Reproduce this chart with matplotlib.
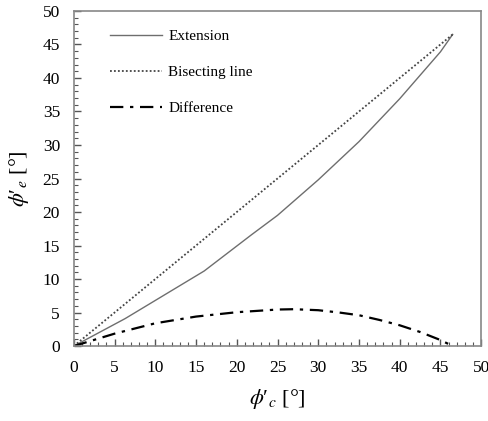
import matplotlib
matplotlib.use("Agg")
import matplotlib.pyplot as plt
from matplotlib.ticker import MultipleLocator

# Datos
ext_x = [0, 6.3, 16.0, 21.8, 25, 30, 35, 40, 45, 46.5]
ext_y = [0, 4.1, 11.2, 16.6, 19.5, 24.8, 30.5, 36.9, 43.9, 46.5]

bis_x = [0, 46.5]
bis_y = [0, 46.5]

dif_x = [0, 5, 10, 15, 20, 25, 27, 30, 32.6, 35, 37.5, 40, 42.5, 45, 46.5]
dif_y = [0, 1.85, 3.4, 4.4, 5.05, 5.45, 5.5, 5.35, 5.0, 4.6, 3.9, 3.1, 2.1, 0.9, 0]

plt.rcParams['font.family'] = ['Liberation Serif', 'DejaVu Serif']
plt.rcParams['mathtext.fontset'] = 'stix'

fig = plt.figure(figsize=(4.89, 4.21), dpi=100)
ax = fig.add_axes([0.151, 0.178, 0.833, 0.796])

ax.plot(ext_x, ext_y, color='#6e6e6e', lw=1.0, label='Extension')
ax.plot(bis_x, bis_y, color='#444444', lw=1.3, ls=(0, (1, 1.2)), label='Bisecting line')
ax.plot(dif_x, dif_y, color='black', lw=1.6, ls=(0, (6, 3, 1.5, 3)), label='Difference')

ax.set_xlim(0, 50)
ax.set_ylim(0, 50)
ax.xaxis.set_major_locator(MultipleLocator(5))
ax.yaxis.set_major_locator(MultipleLocator(5))
ax.xaxis.set_minor_locator(MultipleLocator(1))
ax.yaxis.set_minor_locator(MultipleLocator(1))
ax.tick_params(which='both', direction='in', top=False, right=False,
               color='#555555', labelsize=12.5)
ax.tick_params(which='major', length=5, width=1, pad=10)
ax.tick_params(which='minor', length=3, width=0.8)
for s in ax.spines.values():
    s.set_color('#888888')
    s.set_linewidth(1.2)

ax.set_xlabel("$\\phi$\u2032$_c$ [°]", fontsize=16, labelpad=8)
ax.set_ylabel("$\\phi$\u2032$_e$ [°]", fontsize=16, labelpad=8)

ax.legend(loc='upper left', bbox_to_anchor=(0.055, 0.985), frameon=False,
          fontsize=11, handlelength=3.4, labelspacing=1.45, handletextpad=0.4)

fig.savefig('out.png', dpi=100)
